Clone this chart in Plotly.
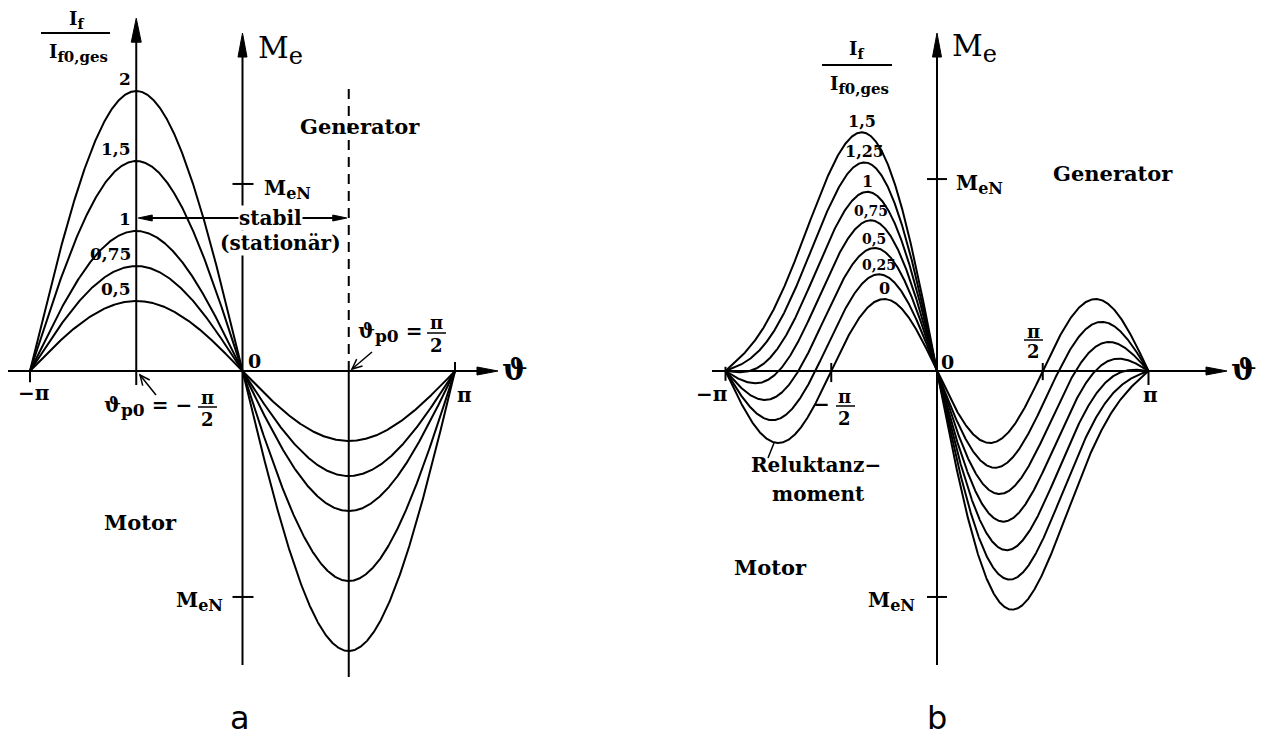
import numpy as np
import plotly.graph_objects as go

# Excitation levels I_f / I_f0,ges for both machine types
excitation_a = [0.5, 0.75, 1.0, 1.5, 2.0]
labels_a = ["0,5", "0,75", "1", "1,5", "2"]
excitation_b = [0.0, 0.25, 0.5, 0.75, 1.0, 1.25, 1.5]
labels_b = ["0", "0,25", "0,5", "0,75", "1", "1,25", "1,5"]
label_size_b = [16, 14, 14, 14, 16, 16, 16]

# Salient-pole machine: synchronous torque per unit excitation and reluctance torque amplitude
sync_gain_b = 0.964
reluctance_amp_b = 0.514

# Rated torque marks (upper / lower) on the M_e axis
m_en_a = [1.336, -1.614]
m_en_b = [1.371, -1.614]

# ---------------------------------------------------------------- geometry
W, H = 1262, 738
Y0, SY = 371.0, 140.0          # pixel row of M_e = 0, pixels per torque unit
X0A, SXA = 242.5, 67.64        # panel a: pixel column of theta = 0, pixels per rad
X0B, SXB = 937.0, 67.32        # panel b
FONT = "DejaVu Serif"
BLACK = "black"
PI = np.pi

theta = np.linspace(-PI, PI, 1441)

fig = go.Figure()

# cylindrical rotor: M_e = -I_f * sin(theta)
for lvl in excitation_a:
    fig.add_trace(go.Scatter(x=theta, y=-lvl * np.sin(theta), mode="lines",
                             line=dict(color=BLACK, width=2), xaxis="x", yaxis="y",
                             hoverinfo="skip", showlegend=False))

# salient pole: synchronous part + reluctance part
curves_b = []
for lvl in excitation_b:
    m = -(sync_gain_b * lvl * np.sin(theta) + reluctance_amp_b * np.sin(2 * theta))
    curves_b.append(m)
    fig.add_trace(go.Scatter(x=theta, y=m, mode="lines",
                             line=dict(color=BLACK, width=2), xaxis="x2", yaxis="y2",
                             hoverinfo="skip", showlegend=False))

shapes = []
annotations = []


def refs(panel):
    return ("x", "y", SXA) if panel == "a" else ("x2", "y2", SXB)


def to_data(panel, px, py):
    x0 = X0A if panel == "a" else X0B
    sx = SXA if panel == "a" else SXB
    return (px - x0) / sx, (Y0 - py) / SY


def line(panel, x0, y0, x1, y1, width=2, dash=None):
    xr, yr, _ = refs(panel)
    ln = dict(color=BLACK, width=width)
    if dash:
        ln["dash"] = dash
    shapes.append(dict(type="line", xref=xr, yref=yr, x0=x0, y0=y0, x1=x1, y1=y1, line=ln))


def head(panel, tip, direction, length=22, width=9, filled=True):
    xr, yr, sx = refs(panel)
    dx, dy = direction
    n = (dx * dx + dy * dy) ** 0.5
    dx, dy = dx / n, dy / n
    bx, by = -dx * length, -dy * length
    qx, qy = -dy * width / 2, dx * width / 2
    offs = [(bx + qx, by + qy), (0, 0), (bx - qx, by - qy)]
    pts = [(tip[0] + ox / sx, tip[1] - oy / SY) for ox, oy in offs]
    path = "M {:.5f},{:.5f} L {:.5f},{:.5f} L {:.5f},{:.5f}".format(*pts[0], *pts[1], *pts[2])
    if filled:
        shapes.append(dict(type="path", xref=xr, yref=yr, path=path + " Z",
                           fillcolor=BLACK, line=dict(color=BLACK, width=1)))
    else:
        shapes.append(dict(type="path", xref=xr, yref=yr, path=path,
                           line=dict(color=BLACK, width=1.5)))


def sub(s, size):
    return "<sub><span style='font-size:{}px'>{}</span></sub>".format(size, s)


def text(px, py, s, size, xanchor="center", yanchor="middle", family=FONT, bg=None, bold=True):
    a = dict(x=px / W, y=1 - py / H, xref="paper", yref="paper",
             text="<b>{}</b>".format(s) if bold else s, showarrow=False,
             font=dict(family=family, size=size, color=BLACK),
             xanchor=xanchor, yanchor=yanchor, borderpad=0)
    if bg:
        a["bgcolor"] = bg
    annotations.append(a)


def paper_line(px0, py0, px1, py1, width=2):
    shapes.append(dict(type="line", xref="paper", yref="paper",
                       x0=px0 / W, y0=1 - py0 / H, x1=px1 / W, y1=1 - py1 / H,
                       line=dict(color=BLACK, width=width)))


# ---------------------------------------------------------------- panel a axes
line("a", -3.467, 0, 3.62, 0)
head("a", (3.777, 0), (1, 0), 21, 8)
line("a", 0, -2.10, 0, 2.30)
head("a", (0, 2.414), (0, -1), 24, 9)
line("a", -PI / 2, -0.10, -PI / 2, 2.40)
head("a", (-PI / 2, 2.52), (0, -1), 24, 10)
line("a", PI / 2, 0, PI / 2, 2.064, dash="10px,7px")
line("a", PI / 2, 0, PI / 2, -2.186)
line("a", -PI, 0, -PI, -0.08)
line("a", PI, 0, PI, 0.064)
for m in m_en_a:
    line("a", -10 / SXA, m, 11 / SXA, m)

# stable operating range arrow
line("a", -PI / 2 + 12 / SXA, (Y0 - 218) / SY, PI / 2 - 12 / SXA, (Y0 - 218) / SY)
head("a", (-PI / 2 + 2 / SXA, (Y0 - 218) / SY), (-1, 0), 14, 6)
head("a", (PI / 2 - 2 / SXA, (Y0 - 218) / SY), (1, 0), 14, 6)
text(270, 218, "stabil", 20, bg="white")
text(280, 243, "(stationär)", 20, bg="white")

# pointer arrows to the pole angles
p0, p1 = to_data("a", 156, 395), to_data("a", 140, 375)
line("a", p0[0], p0[1], p1[0], p1[1], width=1.5)
head("a", p1, (140 - 156, 375 - 395), 10, 9, filled=False)
p0, p1 = to_data("a", 372, 352), to_data("a", 352, 369)
line("a", p0[0], p0[1], p1[0], p1[1], width=1.5)
head("a", p1, (352 - 372, 369 - 352), 10, 9, filled=False)

# ---------------------------------------------------------------- panel b axes
line("b", -3.342, 0, 4.15, 0)
head("b", (4.308, 0), (1, 0), 21, 8)
line("b", 0, -2.10, 0, 2.30)
head("b", (0, 2.414), (0, -1), 24, 9)
line("b", -PI, 0.03, -PI, -0.07)
line("b", -PI / 2, 0.057, -PI / 2, -0.079)
line("b", PI / 2, 0.057, PI / 2, -0.065)
line("b", PI, 0, PI, -0.10)
for m in m_en_b:
    line("b", -10 / SXB, m, 10 / SXB, m)
p0, p1 = to_data("b", 768, 458), to_data("b", 774, 443)
line("b", p0[0], p0[1], p1[0], p1[1], width=1.5)

# ---------------------------------------------------------------- curve labels
for lvl, lab in zip(excitation_a, labels_a):
    annotations.append(dict(x=-PI / 2, y=lvl, xref="x", yref="y", text="<b>{}</b>".format(lab),
                            showarrow=False, font=dict(family=FONT, size=17, color=BLACK),
                            xanchor="right", yanchor="bottom", xshift=-3, yshift=0))
for m, lab, fs in zip(curves_b, labels_b, label_size_b):
    k = int(np.argmax(np.where(theta < 0, m, -np.inf)))
    annotations.append(dict(x=theta[k], y=m[k], xref="x2", yref="y2", text="<b>{}</b>".format(lab),
                            showarrow=False, font=dict(family=FONT, size=fs, color=BLACK),
                            xanchor="center", yanchor="bottom", yshift=-1))

# ---------------------------------------------------------------- texts panel a
text(76, 20, "I" + sub("f", 14), 18)
paper_line(41, 33, 110, 33)
text(78, 53, "I" + sub("f0,ges", 15), 18)
text(257, 50, "M" + sub("e", 24), 30, xanchor="left", bold=False)
text(263, 189, "M" + sub("eN", 16), 20, xanchor="left")
text(224, 601, "M" + sub("eN", 16), 20, xanchor="right")
text(360, 126, "Generator", 21)
text(140, 522, "Motor", 21)
text(254, 361, "0", 19)
text(33, 393, "−π", 20)
text(464, 395, "π", 20)
text(514, 370, "ϑ", 30)
text(193, 407, "ϑ" + sub("p0", 17) + " = −", 20, xanchor="right")
text(207, 397, "π", 18)
paper_line(198, 407, 217, 407, 1.5)
text(207, 419, "2", 18)
text(423, 332, "ϑ" + sub("p0", 17) + " =", 20, xanchor="right")
text(436, 322, "π", 18)
paper_line(427, 333, 446, 333, 1.5)
text(436, 345, "2", 18)
text(240, 738, "a", 32, family="DejaVu Sans", yanchor="bottom", bold=False)

# ---------------------------------------------------------------- texts panel b
text(856, 50, "I" + sub("f", 14), 18)
paper_line(822, 65, 892, 65)
text(859, 85, "I" + sub("f0,ges", 15), 18)
text(951, 48, "M" + sub("e", 24), 30, xanchor="left", bold=False)
text(955, 184, "M" + sub("eN", 16), 20, xanchor="left")
text(916, 601, "M" + sub("eN", 16), 20, xanchor="right")
text(1113, 173, "Generator", 21)
text(770, 567, "Motor", 21)
text(816, 465, "Reluktanz−", 20)
text(818, 494, "moment", 20)
text(947, 362, "0", 19)
text(712, 394, "−π", 20)
text(1150, 395, "π", 20)
text(1243, 370, "ϑ", 30)
text(821, 404, "−", 20)
text(845, 396, "π", 18)
paper_line(836, 406, 855, 406, 1.5)
text(845, 418, "2", 18)
text(1033, 331, "π", 18)
paper_line(1024, 340, 1043, 340, 1.5)
text(1033, 352, "2", 18)
text(937, 738, "b", 32, family="DejaVu Sans", yanchor="bottom", bold=False)

fig.update_layout(
    width=W, height=H,
    margin=dict(l=0, r=0, t=0, b=0),
    paper_bgcolor="white", plot_bgcolor="white",
    showlegend=False,
    xaxis=dict(domain=[0, 0.5], range=[-X0A / SXA, (W / 2 - X0A) / SXA], visible=False),
    yaxis=dict(domain=[0, 1], range=[(Y0 - H) / SY, Y0 / SY], visible=False),
    xaxis2=dict(domain=[0.5, 1], range=[-(X0B - W / 2) / SXB, (W - X0B) / SXB],
                visible=False, anchor="y2"),
    yaxis2=dict(domain=[0, 1], range=[(Y0 - H) / SY, Y0 / SY], visible=False, anchor="x2"),
    shapes=shapes,
    annotations=annotations,
)

fig.write_html("out.html")
